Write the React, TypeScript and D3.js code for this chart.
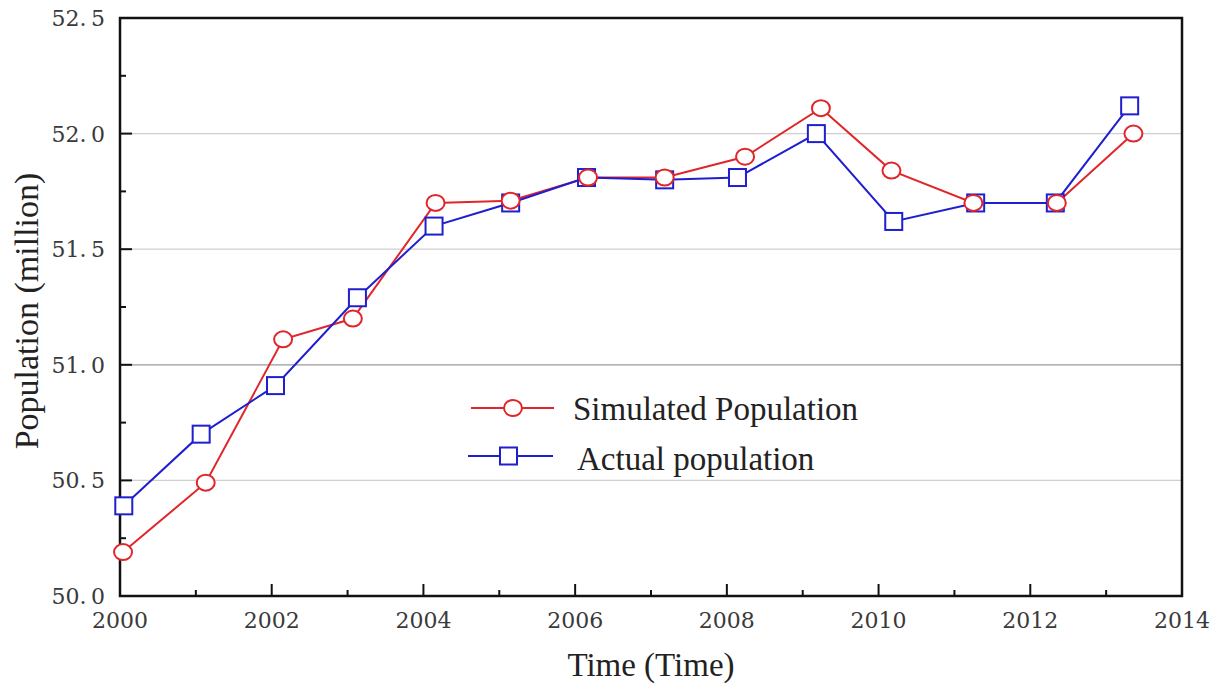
import React from "react";
import * as d3 from "d3";

// time positions as they sit on the chart (fractional years)
const simTime = [2000.04, 2001.13, 2002.15, 2003.07, 2004.16, 2005.15, 2006.17, 2007.18, 2008.24, 2009.24, 2010.17, 2011.25, 2012.35, 2013.36];
const simValues = [50.19, 50.49, 51.11, 51.2, 51.7, 51.71, 51.81, 51.81, 51.9, 52.11, 51.84, 51.7, 51.7, 52.0];
const actTime = [2000.05, 2001.07, 2002.05, 2003.13, 2004.14, 2005.15, 2006.15, 2007.18, 2008.14, 2009.18, 2010.2, 2011.28, 2012.33, 2013.31];
const actValues = [50.39, 50.7, 50.91, 51.29, 51.6, 51.7, 51.81, 51.8, 51.81, 52.0, 51.62, 51.7, 51.7, 52.12];
const xTicks = [2000, 2002, 2004, 2006, 2008, 2010, 2012, 2014];
const yTicks = [50.0, 50.5, 51.0, 51.5, 52.0, 52.5];

export default function App() {
  const width = 1220;
  const height = 690;
  const margin = { left: 120, right: 38, top: 18, bottom: 94 };

  const x = d3.scaleLinear().domain([2000, 2014]).range([margin.left, width - margin.right]);
  const y = d3.scaleLinear().domain([50, 52.5]).range([height - margin.bottom, margin.top]);

  const sim = simTime.map((t, i) => [t, simValues[i]] as [number, number]);
  const act = actTime.map((t, i) => [t, actValues[i]] as [number, number]);
  const line = d3.line<[number, number]>().x((d) => x(d[0])).y((d) => y(d[1]));

  const red = "#e0262a";
  const blue = "#1f1fd0";
  const serif = "'Liberation Serif', 'Times New Roman', serif";
  const tickFont = "'DejaVu Serif', serif";
  const fmt = (v: number) => d3.format(".1f")(v).replace(".", ".\u2009");
  const x0 = margin.left;
  const x1 = width - margin.right;
  const y0 = height - margin.bottom;
  const y1 = margin.top;

  return (
    <svg width={width} height={height} style={{ position: "absolute", left: 0, top: 0 }}>
      <rect width={width} height={height} fill="#fff" />
      {yTicks.slice(1, -1).map((t) => (
        <line key={t} x1={x0} x2={x1} y1={y(t)} y2={y(t)} stroke={t === 51 ? "#9a9a9a" : "#cfcfcf"} strokeWidth={1.2} />
      ))}
      {/* minor ticks */}
      {d3.range(50.25, 52.5, 0.5).map((t) => (
        <line key={"my" + t} x1={x0} x2={x0 + 6} y1={y(t)} y2={y(t)} stroke="#111" strokeWidth={2} />
      ))}
      {yTicks.map((t) => (
        <g key={"y" + t}>
          <line x1={x0} x2={x0 + 12} y1={y(t)} y2={y(t)} stroke="#111" strokeWidth={2} />
          <text x={x0 - 15} y={y(t)} dy="0.36em" textAnchor="end" fontFamily={tickFont} fontSize={22} fill="#3a3a3a">
            {fmt(t)}
          </text>
        </g>
      ))}
      {d3.range(2001, 2014, 2).map((t) => (
        <line key={"mx" + t} x1={x(t)} x2={x(t)} y1={y0} y2={y0 - 6} stroke="#111" strokeWidth={2} />
      ))}
      {xTicks.map((t) => (
        <g key={"x" + t}>
          <line x1={x(t)} x2={x(t)} y1={y0} y2={y0 - 12} stroke="#111" strokeWidth={2} />
          <text x={x(t)} y={y0 + 32} textAnchor="middle" fontFamily={tickFont} fontSize={22} fill="#3a3a3a">
            {t}
          </text>
        </g>
      ))}
      <rect x={x0} y={y1} width={x1 - x0} height={y0 - y1} fill="none" stroke="#111" strokeWidth={2.5} />

      <path d={line(sim) ?? ""} fill="none" stroke={red} strokeWidth={2} />
      <path d={line(act) ?? ""} fill="none" stroke={blue} strokeWidth={2} />
      {act.map((d, i) => (
        <rect key={"a" + i} x={x(d[0]) - 8.5} y={y(d[1]) - 8.5} width={17} height={17} fill="#fff" stroke={blue} strokeWidth={2} />
      ))}
      {sim.map((d, i) => (
        <ellipse key={"s" + i} cx={x(d[0])} cy={y(d[1])} rx={9} ry={8} fill="#fff" stroke={red} strokeWidth={2} />
      ))}

      {/* legend */}
      <line x1={471} x2={554} y1={408} y2={408} stroke={red} strokeWidth={2} />
      <ellipse cx={513} cy={408} rx={9} ry={8} fill="#fff" stroke={red} strokeWidth={2} />
      <text x={573} y={408} dy="0.35em" fontFamily={serif} fontSize={33} fill="#222">Simulated Population</text>
      <line x1={468} x2={553} y1={456} y2={456} stroke={blue} strokeWidth={2} />
      <rect x={500} y={447.5} width={17} height={17} fill="#fff" stroke={blue} strokeWidth={2} />
      <text x={577} y={458} dy="0.35em" fontFamily={serif} fontSize={33} fill="#222">Actual population</text>

      <text x={651} y={676} textAnchor="middle" fontFamily={serif} fontSize={33} fill="#222">Time (Time)</text>
      <text transform={`translate(38, ${(y0 + y1) / 2 + 4}) rotate(-90)`} textAnchor="middle" fontFamily={serif} fontSize={34} fill="#222">
        Population (million)
      </text>
    </svg>
  );
}
